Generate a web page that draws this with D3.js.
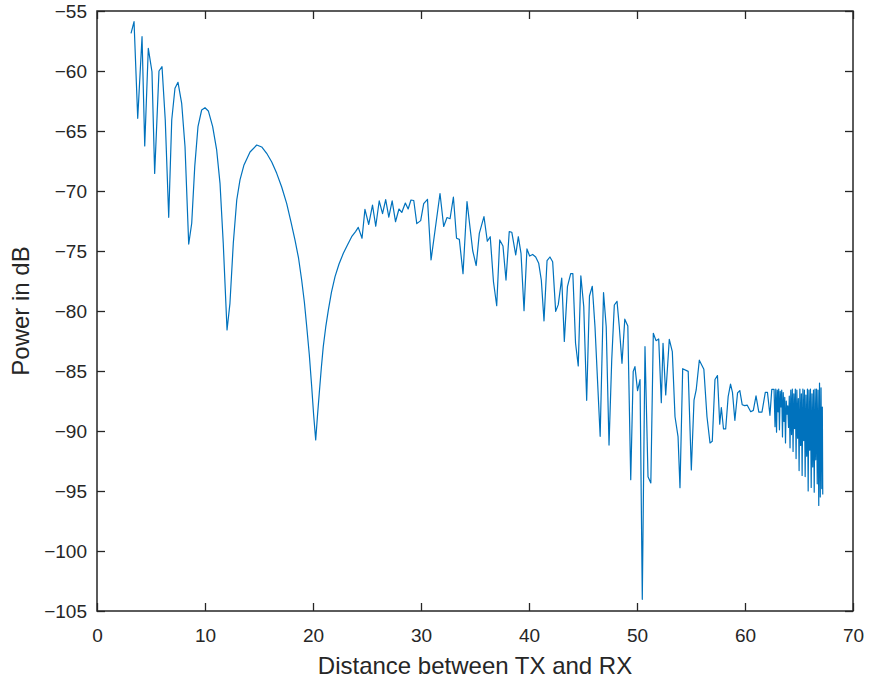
<!DOCTYPE html>
<html>
<head>
<meta charset="utf-8">
<script src="https://cdn.jsdelivr.net/npm/d3@7"></script>
<style>
  body { margin: 0; background: #fff; }
  svg { display: block; }
  .axis text { font-family: "Liberation Sans", Arial, sans-serif; font-size: 19px; fill: #262626; }
  .label { font-family: "Liberation Sans", Arial, sans-serif; font-size: 24px; fill: #262626; }
</style>
</head>
<body>
<script>
// distance between TX and RX
const distance = [
  3.15, 3.43, 3.77, 4.17, 4.42, 4.75, 5.09, 5.34, 5.74, 6.02,
  6.32, 6.64, 6.92, 7.22, 7.50, 7.84, 8.15, 8.49, 8.77, 9.05,
  9.35, 9.69, 10.00, 10.31, 10.71, 11.08, 11.39, 11.69, 12.04, 12.31,
  12.62, 12.94, 13.24, 13.61, 14.17, 14.79, 15.25, 15.71, 16.18, 16.64,
  17.10, 17.56, 17.96, 18.33, 18.66, 18.95, 19.20, 19.42, 19.66, 19.88,
  20.06, 20.25, 20.42, 20.58, 20.77, 20.95, 21.18, 21.42, 21.71, 22.04,
  22.41, 22.81, 23.19, 23.58, 23.94, 24.19, 24.54, 24.81, 25.16, 25.51,
  25.81, 26.13, 26.44, 26.73, 27.02, 27.33, 27.64, 27.96, 28.22, 28.55,
  28.81, 29.07, 29.33, 29.61, 29.97, 30.25, 30.60, 30.93, 31.76, 32.10,
  32.41, 32.69, 33.00, 33.29, 33.55, 33.89, 34.26, 34.79, 35.11, 35.40,
  35.83, 36.14, 36.41, 36.71, 37.01, 37.29, 37.59, 37.87, 38.17, 38.41,
  38.77, 39.01, 39.26, 39.54, 39.81, 40.06, 40.34, 40.62, 40.90, 41.14,
  41.39, 41.67, 41.94, 42.19, 42.47, 42.71, 43.03, 43.27, 43.56, 43.86,
  44.06, 44.31, 44.56, 44.80, 45.07, 45.34, 45.60, 45.86, 46.11, 46.59,
  46.90, 47.15, 47.41, 47.66, 47.90, 48.15, 48.36, 48.61, 48.87, 49.15,
  49.42, 49.65, 49.81, 50.05, 50.28, 50.49, 50.74, 51.02, 51.28, 51.51,
  51.76, 52.01, 52.25, 52.41, 52.66, 52.99, 53.27, 53.52, 53.80, 53.98,
  54.23, 54.74, 55.03, 55.28, 55.48, 55.77, 56.19, 56.48, 56.76, 56.97,
  57.22, 57.45, 57.66, 57.81, 58.01, 58.21, 58.44, 58.66, 58.84, 59.06,
  59.31, 59.52, 59.74, 59.97, 60.21, 60.53, 60.77, 61.02, 61.28, 61.57,
  61.88, 62.08, 62.31, 62.48, 62.69, 62.78,
  62.85, 62.92, 62.99, 63.06, 63.12, 63.19, 63.26, 63.33, 63.40, 63.47,
  63.54, 63.61, 63.68, 63.75, 63.82, 63.89, 63.96, 64.03, 64.10, 64.17,
  64.24, 64.31, 64.38, 64.45, 64.52, 64.59, 64.66, 64.73, 64.80, 64.87,
  64.94, 65.01, 65.08, 65.15, 65.22, 65.29, 65.36, 65.43, 65.50, 65.57,
  65.64, 65.71, 65.78, 65.85, 65.92, 65.99, 66.06, 66.13, 66.20, 66.27,
  66.34, 66.41, 66.48, 66.55, 66.62, 66.69, 66.76, 66.83, 66.90, 66.97,
  67.04, 67.11, 67.16, 67.20
];

// received power in dB
const power = [
  -56.86, -55.89, -63.94, -57.14, -66.25, -58.11, -60.06, -68.53, -60.00, -59.64,
  -64.08, -72.19, -64.08, -61.44, -60.94, -62.69, -66.31, -74.42, -72.69, -67.97,
  -64.64, -63.25, -63.06, -63.33, -64.64, -66.58, -69.36, -74.36, -81.58, -79.36,
  -74.36, -70.75, -69.08, -67.83, -66.75, -66.17, -66.33, -66.86, -67.58, -68.53,
  -69.67, -71.03, -72.58, -74.08, -75.58, -77.42, -79.25, -81.31, -83.67, -86.31,
  -88.67, -90.75, -88.67, -86.86, -84.75, -82.97, -81.33, -79.92, -78.42, -77.14,
  -76.08, -75.19, -74.50, -73.81, -73.38, -73.03, -73.94, -71.53, -72.79, -71.17,
  -72.94, -70.83, -71.89, -70.72, -72.17, -70.83, -72.56, -71.50, -71.79, -71.00,
  -71.50, -70.75, -70.79, -72.72, -72.47, -71.06, -70.69, -75.75, -70.21, -72.96,
  -72.21, -72.31, -70.50, -73.94, -74.03, -76.89, -70.88, -74.98, -76.21, -73.53,
  -72.14, -74.19, -73.81, -77.56, -79.56, -74.08, -74.58, -77.42, -73.39, -73.44,
  -75.33, -73.81, -75.19, -79.97, -74.83, -75.42, -75.29, -75.50, -76.03, -77.42,
  -80.82, -75.81, -75.50, -75.89, -80.03, -79.47, -77.25, -82.53, -77.97, -76.89,
  -76.88, -82.69, -84.58, -77.07, -79.64, -87.44, -78.75, -77.94, -81.31, -90.44,
  -78.47, -81.31, -91.17, -84.08, -79.50, -79.19, -81.31, -84.36, -80.68, -81.25,
  -94.06, -85.03, -84.64, -86.64, -85.72, -104.03, -82.97, -93.81, -94.33, -81.86,
  -82.47, -82.33, -87.64, -82.69, -87.00, -82.36, -83.39, -88.81, -90.47, -94.72,
  -84.81, -85.03, -93.25, -87.42, -86.58, -84.10, -84.85, -88.81, -91.00, -90.86,
  -85.71, -85.38, -89.43, -88.04, -89.83, -89.83, -87.14, -86.10, -86.78, -89.11,
  -86.83, -86.63, -87.81, -87.89, -87.85, -88.39, -88.28, -87.07, -88.42, -88.42,
  -86.78, -86.78, -88.69, -86.53, -86.53, -89.64,
  -86.5, -90.1, -86.6, -88.4, -86.5, -89.9, -86.7, -88.0, -86.6, -90.5,
  -86.8, -89.2, -87.2, -91.0, -87.5, -88.6, -87.9, -89.7, -87.1, -91.4,
  -86.6, -90.3, -86.5, -91.7, -86.9, -89.8, -86.5, -92.3, -86.6, -90.6,
  -87.3, -93.3, -86.5, -91.2, -86.9, -93.7, -86.5, -90.8, -86.6, -93.8,
  -87.0, -92.1, -86.5, -95.0, -86.6, -91.6, -86.5, -94.7, -86.9, -93.0,
  -86.6, -95.1, -86.5, -92.4, -86.5, -94.4, -86.6, -96.2, -86.0, -95.5,
  -86.4, -94.8, -88.0, -95.3
];

const xTicks = [0, 10, 20, 30, 40, 50, 60, 70];
const yTicks = [-105, -100, -95, -90, -85, -80, -75, -70, -65, -60, -55];

const W = 869, H = 684;
const margin = { top: 11, right: 16, bottom: 73, left: 97 };
const width = W - margin.left - margin.right;
const height = H - margin.top - margin.bottom;

const x = d3.scaleLinear().domain([0, 70]).range([0, width]);
const y = d3.scaleLinear().domain([-105, -55]).range([height, 0]);

const svg = d3.select('body').append('svg')
  .attr('width', W)
  .attr('height', H);

const g = svg.append('g')
  .attr('transform', 'translate(' + margin.left + ',' + margin.top + ')');

const data = distance.map((d, i) => ({ d: d, p: power[i] }));

const line = d3.line()
  .x(function(d) { return x(d.d); })
  .y(function(d) { return y(d.p); });

g.append('path')
  .attr('d', line(data))
  .attr('fill', 'none')
  .attr('stroke', '#0072BD')
  .attr('stroke-width', 1.2)
  .attr('stroke-linejoin', 'round');

// axes, ticks inward on all four sides
const tickLen = 8;
const xAxis = d3.axisBottom(x).tickValues(xTicks).tickSizeInner(-tickLen).tickSizeOuter(0).tickPadding(18);
const yAxis = d3.axisLeft(y).tickValues(yTicks).tickSizeInner(-tickLen).tickSizeOuter(0).tickPadding(10);
const xTop = d3.axisTop(x).tickValues(xTicks).tickSizeInner(-tickLen).tickSizeOuter(0).tickFormat('');
const yRight = d3.axisRight(y).tickValues(yTicks).tickSizeInner(-tickLen).tickSizeOuter(0).tickFormat('');

g.append('g').attr('class', 'axis').attr('transform', 'translate(0,' + height + ')').call(xAxis);
g.append('g').attr('class', 'axis').call(yAxis);
g.append('g').attr('class', 'axis').call(xTop);
g.append('g').attr('class', 'axis').attr('transform', 'translate(' + width + ',0)').call(yRight);

svg.selectAll('.axis .domain').remove();
svg.selectAll('.axis line').attr('stroke', '#262626').attr('stroke-width', 1.3);

g.append('rect')
  .attr('width', width)
  .attr('height', height)
  .attr('fill', 'none')
  .attr('stroke', '#262626')
  .attr('stroke-width', 1.5);

svg.append('text')
  .attr('class', 'label')
  .attr('x', margin.left + width / 2)
  .attr('y', 674)
  .attr('text-anchor', 'middle')
  .text('Distance between TX and RX');

svg.append('text')
  .attr('class', 'label')
  .attr('transform', 'translate(29,' + (margin.top + height / 2) + ') rotate(-90)')
  .attr('text-anchor', 'middle')
  .text('Power in dB');
</script>
</body>
</html>
